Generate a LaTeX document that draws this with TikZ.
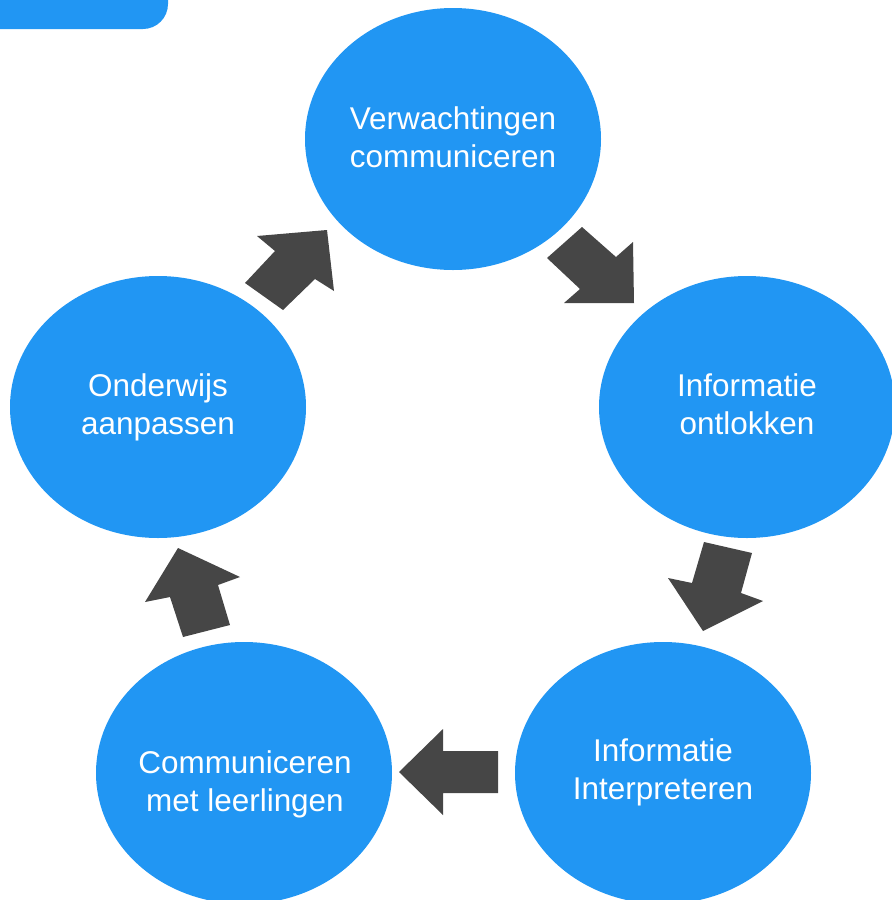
\documentclass[tikz,border=0pt]{standalone}
\usepackage{fontspec}
\setmainfont{Liberation Sans}
\usetikzlibrary{shapes.geometric}
\definecolor{cblue}{RGB}{33,150,243}
\definecolor{cgray}{RGB}{70,70,70}
\tikzset{
  stage/.style={ellipse, fill=cblue, draw=none, inner sep=0pt,
    minimum width=296*0.02cm, minimum height=262*0.02cm},
  stagetext/.style={inner sep=0pt, text=white, align=center,
    font=\fontsize{17.9}{21.5}\selectfont},
  blockarrow/.style={fill=cgray, draw=none}
}
\begin{document}
\begin{tikzpicture}[x=0.02cm,y=-0.02cm]
\useasboundingbox (0,0) rectangle (892,900);
\clip (0,0) rectangle (892,900);
\fill[cblue, rounded corners=25*0.02cm] (-40,-40) rectangle (168,29);
\node[stage] (verw) at (453,139) {};
\node[stage] (ontl) at (747,407) {};
\node[stage] (interp) at (663,773) {};
\node[stage] (comm) at (244,773) {};
\node[stage] (aanp) at (158,407) {};
\node[stagetext] (verwt) at (453,137) {Verwachtingen\\communiceren};
\node[stagetext] (ontlt) at (747,404) {Informatie\\ontlokken};
\node[stagetext] (interpt) at (663,772) {Informatie\\Interpreteren};
\node[stagetext] (commt) at (245,784) {Communiceren\\met leerlingen};
\node[stagetext] (aanpt) at (158,407) {Onderwijs\\aanpassen};
% block arrows
\fill[blockarrow] (257,236) -- (327,230) -- (334,291) -- (315,279) -- (283,310) -- (245,283) -- (275,251) -- cycle;
\fill[blockarrow] (582,227) -- (616,257) -- (633,242) -- (634,303) -- (564,303) -- (580,289) -- (547,258) -- cycle;
\fill[blockarrow] (704,542) -- (752,553) -- (741,593) -- (763,601) -- (703,631) -- (668,578) -- (692,583) -- cycle;
\fill[blockarrow] (399,772) -- (443,729) -- (443,751) -- (498,751) -- (498,793) -- (443,793) -- (443,815) -- cycle;
\fill[blockarrow] (178,548) -- (240,577) -- (218,585) -- (230,625) -- (183,637) -- (170,597) -- (145,602) -- cycle;
\end{tikzpicture}
\end{document}
